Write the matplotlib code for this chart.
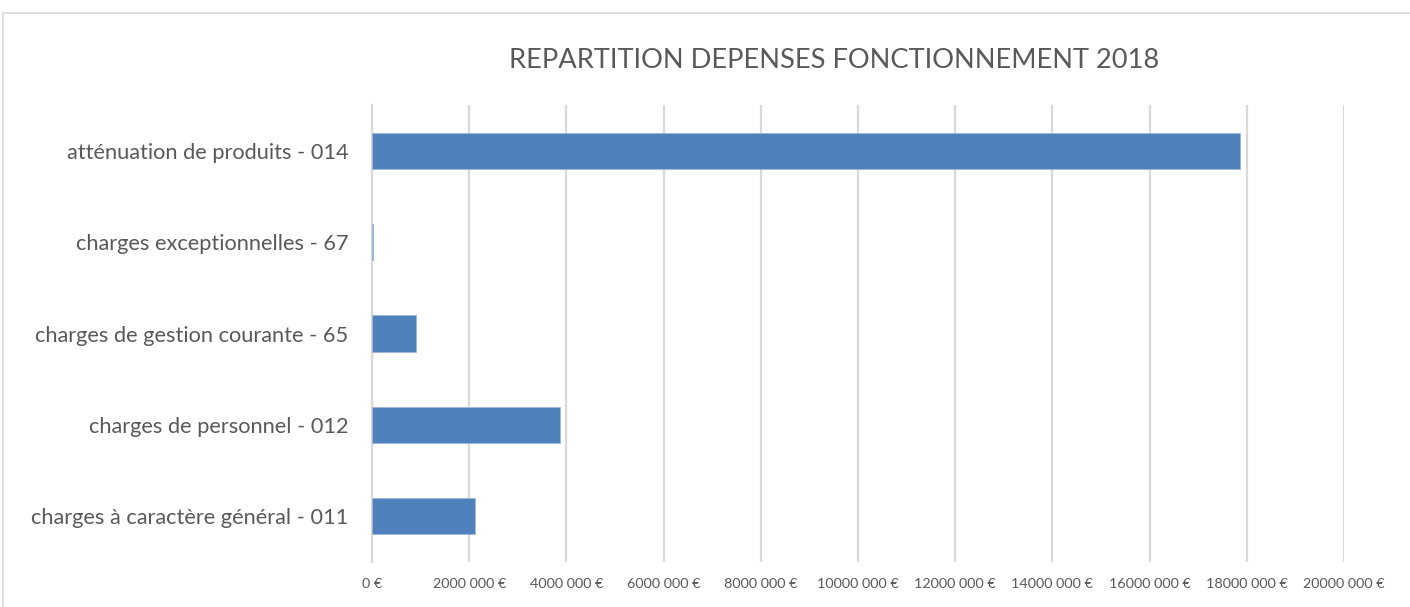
import matplotlib
matplotlib.use("Agg")
import matplotlib.pyplot as plt
from matplotlib.ticker import FuncFormatter, MultipleLocator
from matplotlib.patches import Rectangle

categories = [
    "charges à caractère général - 011",
    "charges de personnel - 012",
    "charges de gestion courante - 65",
    "charges exceptionnelles - 67",
    "atténuation de produits - 014",
]
values = [2120000, 3870000, 905000, 30000, 17850000]
title = "REPARTITION DEPENSES FONCTIONNEMENT 2018"

plt.rcParams['font.family'] = ['Lato', 'DejaVu Sans']

fig = plt.figure(figsize=(14.1, 6.07), dpi=100)
W, H = 1410, 607
# outer chart border
fig.patches.append(Rectangle((3 / W, -0.1), 1.2, 1 - 13 / H + 0.1,
                             transform=fig.transFigure, fill=False,
                             edgecolor='#d9d9d9', lw=1.2))

ax = fig.add_axes([372 / W, 1 - 561.7 / H, (1344 - 372) / W, (561.7 - 105.3) / H])
y = range(len(categories))
ax.barh(y, values, height=0.4, color='#4f81bd', edgecolor='#9fb8da', lw=0.6, zorder=3)
ax.set_xlim(0, 20000000)
ax.set_ylim(-0.5, len(categories) - 0.5)
ax.set_yticks(list(y))
ax.set_yticklabels(categories, fontsize=15.7, color='#595959')
ax.xaxis.set_major_locator(MultipleLocator(2000000))

def fmt(v, pos):
    v = int(round(v))
    if v == 0:
        return "0 €"
    return f"{v // 1000} {v % 1000:03d} €"

ax.xaxis.set_major_formatter(FuncFormatter(fmt))
ax.tick_params(axis='x', length=0, labelsize=10.4, labelcolor='#595959', pad=12)
ax.tick_params(axis='y', length=0, pad=17)
ax.grid(axis='x', color='#d9d9d9', lw=1.6, zorder=0)
ax.grid(axis='y', visible=False)
for s in ['top', 'right', 'bottom']:
    ax.spines[s].set_visible(False)
ax.spines['left'].set_color('#d9d9d9')
ax.spines['left'].set_linewidth(1.6)

fig.text(834 / W, 1 - 60 / H, title, ha='center', va='center',
         fontsize=19.6, color='#595959')

fig.savefig("out.png", dpi=100, facecolor='white')
